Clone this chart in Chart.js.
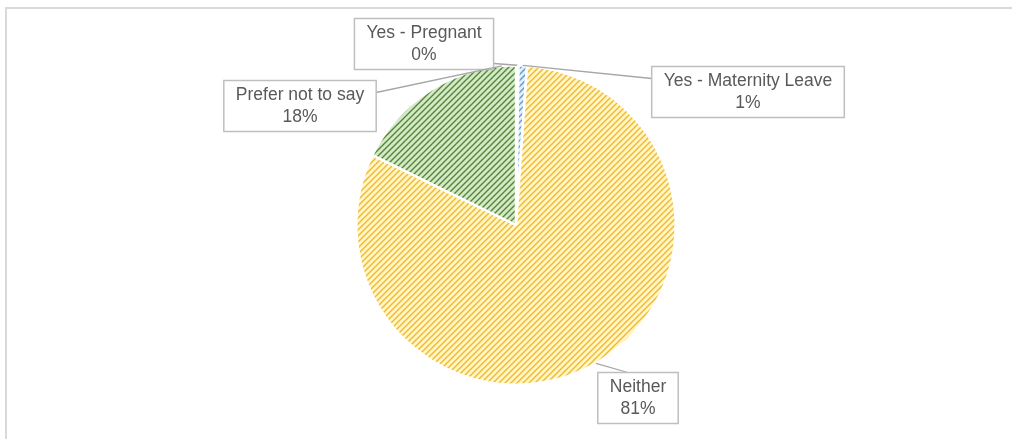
<!DOCTYPE html>
<html lang="en">
<head>
    <meta charset="UTF-8">
    <title>Pregnancy / Maternity</title>
    <script src="https://cdn.jsdelivr.net/npm/chart.js"></script>
    <style>
        html, body { margin: 0; padding: 0; background: #fff; overflow: hidden; }
        .frame {
            position: absolute;
            left: 5px; top: 7px;
            width: 1100px; height: 500px;
            border: 2px solid #d9d9d9;
        }
        .wrap { position: absolute; left: 0; top: 0; width: 1012px; height: 439px; }
    </style>
</head>
<body>
    <div class="frame"></div>
    <div class="wrap"><canvas id="pie" width="1012" height="439"></canvas></div>

    <script>
        // data
        const categories = ["Yes - Pregnant", "Yes - Maternity Leave", "Neither", "Prefer not to say"];
        const shares = [0.25, 0.85, 81.1, 17.8];
        const shownPct = ["0%", "1%", "81%", "18%"];

        // stripe colours: [stripe, background]
        const fills = [
            ["#9dc3e6", "#f4f8fc"],
            ["#5b9bd5", "#e4eff9"],
            ["#f4bb10", "#fff4d4"],
            ["#54863a", "#d4e9c6"]
        ];

        // label box centres, which side the leader enters, and where it touches the slice (0..1 along the arc)
        const labelBoxes = [
            { x: 424, y: 44, side: "right", at: 0.5 },
            { x: 748, y: 92, side: "left", at: 0.5 },
            { x: 638, y: 398, side: "top", at: 0.5 },
            { x: 300, y: 106, side: "right", at: 0.92 }
        ];

        function stripes(fg, bg) {
            const s = 6;
            const c = document.createElement("canvas");
            c.width = s; c.height = s;
            const g = c.getContext("2d");
            g.fillStyle = bg;
            g.fillRect(0, 0, s, s);
            g.strokeStyle = fg;
            g.lineWidth = 1.4;
            g.beginPath();
            g.moveTo(-1, s + 1); g.lineTo(s + 1, -1);
            g.moveTo(-1, 1); g.lineTo(1, -1);
            g.moveTo(s - 1, s + 1); g.lineTo(s + 1, s - 1);
            g.stroke();
            return g.createPattern(c, "repeat");
        }

        const calloutPlugin = {
            id: "callouts",
            afterDatasetsDraw(chart) {
                const ctx = chart.ctx;
                const arcs = chart.getDatasetMeta(0).data;
                ctx.save();
                ctx.font = "17.5px 'Liberation Sans', Arial, sans-serif";
                ctx.textAlign = "center";
                ctx.textBaseline = "middle";
                arcs.forEach((arc, i) => {
                    const p = arc.getProps(["x", "y", "startAngle", "endAngle", "outerRadius"], true);
                    const cfg = labelBoxes[i];
                    const a = p.startAngle + (p.endAngle - p.startAngle) * cfg.at;
                    const ax = p.x + Math.cos(a) * p.outerRadius;
                    const ay = p.y + Math.sin(a) * p.outerRadius;

                    const w = Math.max(ctx.measureText(categories[i]).width, ctx.measureText(shownPct[i]).width) + 24;
                    const h = 51;
                    const l = cfg.x - w / 2, t = cfg.y - h / 2;

                    // leader line into the box side
                    let ex, ey;
                    if (cfg.side === "top") {
                        ex = Math.min(Math.max(ax, l + 30), l + w - 10);
                        ey = t;
                    } else {
                        ex = cfg.side === "left" ? l : l + w;
                        ey = Math.min(Math.max(ay, t + 12), t + h - 6);
                    }
                    ctx.strokeStyle = "#a6a6a6";
                    ctx.lineWidth = 1.3;
                    ctx.beginPath();
                    ctx.moveTo(ax, ay);
                    ctx.lineTo(ex, ey);
                    ctx.stroke();

                    ctx.fillStyle = "#fff";
                    ctx.fillRect(l, t, w, h);
                    ctx.strokeStyle = "#bfbfbf";
                    ctx.lineWidth = 1.5;
                    ctx.strokeRect(l, t, w, h);

                    ctx.fillStyle = "#595959";
                    ctx.fillText(categories[i], cfg.x, cfg.y - 11);
                    ctx.fillText(shownPct[i], cfg.x, cfg.y + 11);
                });
                ctx.restore();
            }
        };

        new Chart(document.getElementById("pie"), {
            type: "pie",
            data: {
                labels: categories,
                datasets: [{
                    data: shares,
                    backgroundColor: fills.map(f => stripes(f[0], f[1])),
                    borderColor: "#ffffff",
                    borderWidth: 2.5
                }]
            },
            options: {
                responsive: false,
                animation: false,
                devicePixelRatio: 1,
                layout: { padding: { top: 64, bottom: 53, left: 20, right: 0 } },
                plugins: {
                    legend: { display: false },
                    tooltip: { enabled: false }
                }
            },
            plugins: [calloutPlugin]
        });
    </script>
</body>
</html>
